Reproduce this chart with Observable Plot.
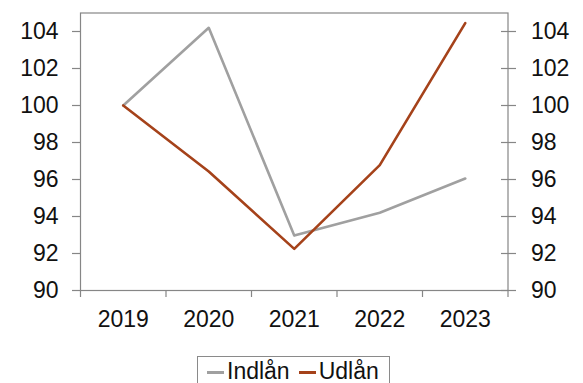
<!DOCTYPE html>
<html>
<head>
<meta charset="utf-8">
<script src="https://cdn.jsdelivr.net/npm/d3@7"></script>
<script src="https://cdn.jsdelivr.net/npm/@observablehq/plot@0.6"></script>
<style>
  html, body { margin: 0; padding: 0; background: #fff; }
  body { width: 583px; height: 383px; overflow: hidden; position: relative; font-family: "Liberation Sans", Arial, sans-serif; }
  #legend { position: absolute; left: 197px; top: 356px; width: 193px; height: 34px; border: 1px solid #8a8a8a; box-sizing: border-box; font-size: 23px; color: #111; display: flex; align-items: flex-start; padding-left: 9px; padding-top: 3px; line-height: 23px; }
  .sw { display: inline-block; width: 17px; height: 3px; margin-top: 11px; margin-right: 3px; }
  .item { display: flex; align-items: flex-start; margin-right: 9px; }
</style>
</head>
<body>
<div id="chart"></div>
<div id="legend"></div>
<script>
const years = [2019, 2020, 2021, 2022, 2023];
const indlan = [100, 104.2, 92.97, 94.2, 96.05];
const udlan = [100, 96.43, 92.25, 96.78, 104.45];
const seriesNames = ["Indlån", "Udlån"];
const seriesColors = ["#a0a0a0", "#a5421a"];
const yTicks = [90, 92, 94, 96, 98, 100, 102, 104];
const bandEdges = [2018.5, 2019.5, 2020.5, 2021.5, 2022.5, 2023.5];

const rows = [];
years.forEach((y, i) => {
  rows.push({year: y, value: indlan[i], series: seriesNames[0]});
  rows.push({year: y, value: udlan[i], series: seriesNames[1]});
});

const axisColor = "#868686";
const chart = Plot.plot({
  width: 583,
  height: 340,
  marginLeft: 80,
  marginRight: 75.5,
  marginTop: 12.5,
  marginBottom: 50,
  style: {fontFamily: "'Liberation Sans', Arial, sans-serif", fontSize: "23px", color: "#111", background: "#fff"},
  x: {domain: [2018.5, 2023.5]},
  y: {domain: [90, 105]},
  color: {domain: seriesNames, range: seriesColors},
  marks: [
    Plot.frame({stroke: axisColor, strokeWidth: 1.2}),
    // left axis
    Plot.axisY(yTicks, {anchor: "left", label: null, tickSize: 8, tickPadding: 14, stroke: axisColor, strokeWidth: 1.2, fill: "#111", fontSize: 23}),
    // right axis ticks crossing frame
    Plot.axisY(yTicks, {anchor: "right", label: null, tickSize: 15, dx: -7.5, text: null, stroke: axisColor, strokeWidth: 1.2}),
    Plot.axisY(yTicks, {anchor: "right", label: null, tickSize: 0, tickPadding: 23, fill: "#111", fontSize: 23}),
    // x axis: boundary ticks and centered labels
    Plot.axisX(bandEdges, {anchor: "bottom", label: null, tickSize: 7, text: null, stroke: axisColor, strokeWidth: 1.2}),
    Plot.axisX(years, {anchor: "bottom", label: null, tickSize: 0, tickPadding: 20, tickFormat: d => String(d), fill: "#111", fontSize: 23}),
    Plot.line(rows, {x: "year", y: "value", z: "series", stroke: "series", strokeWidth: 2.6})
  ]
});
document.getElementById("chart").appendChild(chart);

const legend = document.getElementById("legend");
seriesNames.forEach((name, i) => {
  const item = document.createElement("div");
  item.className = "item";
  const sw = document.createElement("span");
  sw.className = "sw";
  sw.style.background = seriesColors[i];
  item.appendChild(sw);
  const t = document.createElement("span");
  t.textContent = name;
  item.appendChild(t);
  legend.appendChild(item);
});
</script>
</body>
</html>
